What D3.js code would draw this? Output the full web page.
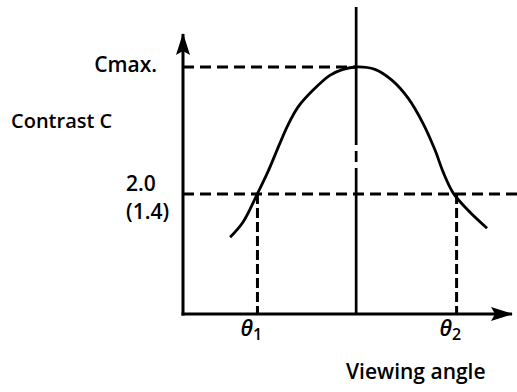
<!DOCTYPE html>
<html>
<head>
<meta charset="utf-8">
<script src="https://cdn.jsdelivr.net/npm/d3@7"></script>
<style>
  html, body { margin: 0; padding: 0; background: #fff; }
  svg { display: block; }
  text { font-family: "Open Sans", sans-serif; font-weight: 600; fill: #000; }
</style>
</head>
<body>
<svg id="chart" width="517" height="392"></svg>
<script>
"use strict";

// curve: viewing angle (deg) vs contrast
const angles   = [-36.4, -32.7, -28.4, -25.5, -22.0, -19.7, -16.8, -12.5, -7.6, -3.8, 0,
                  5.4, 10.3, 15.0, 19.3, 22.8, 25.1, 28.0, 32.3, 37.8];
const contrast = [1.28, 1.53, 2.02, 2.37, 2.85, 3.15, 3.45, 3.73, 3.98, 4.08, 4.12,
                  4.08, 3.90, 3.60, 3.18, 2.73, 2.37, 2.02, 1.73, 1.43];

const cMax = 4.12;
const cLevel = 2.0;
const levelLabels = ["2.0", "(1.4)"];
const thetaAngles = [-28.5, 29.0];
const thetaSubs = ["1", "2"];
const xLabel = "Viewing angle";
const yLabel = "Contrast C";
const cMaxLabel = "Cmax.";

const xDomain = [-50, 45];
const yDomain = [0, 4.67];
const levelLineEnd = 46.5;
const centerTop = 5.12;

const svg = d3.select("#chart");
const x = d3.scaleLinear().domain(xDomain).range([183, 512]);
const y = d3.scaleLinear().domain(yDomain).range([314, 34]);

const defs = svg.append("defs");
defs.append("marker")
    .attr("id", "arrow")
    .attr("viewBox", "0 0 22 14")
    .attr("refX", 21).attr("refY", 7)
    .attr("markerWidth", 22).attr("markerHeight", 14)
    .attr("markerUnits", "userSpaceOnUse")
    .attr("orient", "auto")
  .append("path")
    .attr("d", "M0,0 L22,7 L0,14 L4,7 Z")
    .attr("fill", "#000");

// dashed reference lines
const dash = "11,6";
svg.append("line")
    .attr("x1", x(xDomain[0])).attr("x2", x(0))
    .attr("y1", y(cMax)).attr("y2", y(cMax))
    .attr("stroke", "#000").attr("stroke-width", 3).attr("stroke-dasharray", dash);
svg.append("line")
    .attr("x1", x(xDomain[0])).attr("x2", x(levelLineEnd))
    .attr("y1", y(cLevel)).attr("y2", y(cLevel))
    .attr("stroke", "#000").attr("stroke-width", 3).attr("stroke-dasharray", dash);
svg.selectAll("line.theta")
    .data(thetaAngles)
    .join("line")
    .attr("class", "theta")
    .attr("x1", d => x(d)).attr("x2", d => x(d))
    .attr("y1", y(cLevel)).attr("y2", y(0))
    .attr("stroke", "#000").attr("stroke-width", 3).attr("stroke-dasharray", "10,4");

// centre line (normal direction)
svg.append("line")
    .attr("x1", x(0)).attr("x2", x(0))
    .attr("y1", y(centerTop)).attr("y2", y(0))
    .attr("stroke", "#000").attr("stroke-width", 2.7)
    .attr("stroke-dasharray", "138,6,11,6,200");

// axes
svg.append("line")
    .attr("x1", x(xDomain[0])).attr("x2", x(xDomain[0]))
    .attr("y1", y(0) + 1.5).attr("y2", y(yDomain[1]))
    .attr("stroke", "#000").attr("stroke-width", 3)
    .attr("marker-end", "url(#arrow)");
svg.append("line")
    .attr("x1", x(xDomain[0]) - 1.5).attr("x2", x(xDomain[1]))
    .attr("y1", y(0)).attr("y2", y(0))
    .attr("stroke", "#000").attr("stroke-width", 3)
    .attr("marker-end", "url(#arrow)");

// contrast curve
const line = d3.line()
    .x((d, i) => x(angles[i]))
    .y((d, i) => y(contrast[i]))
    .curve(d3.curveCatmullRom);
svg.append("path")
    .attr("d", line(angles))
    .attr("fill", "none")
    .attr("stroke", "#000")
    .attr("stroke-width", 2.8);

// labels
const fs = 21;
svg.append("text")
    .attr("x", 157).attr("y", y(cMax) + 5)
    .attr("text-anchor", "end")
    .attr("font-size", fs)
    .text(cMaxLabel);
svg.append("text")
    .attr("x", 11).attr("y", 128)
    .attr("font-size", 20)
    .text(yLabel);
svg.selectAll("text.level")
    .data(levelLabels)
    .join("text")
    .attr("class", "level")
    .attr("x", 126)
    .attr("y", (d, i) => y(cLevel) - 3 + i * 28)
    .attr("font-size", fs)
    .text(d => d);

const th = svg.selectAll("text.theta")
    .data(thetaAngles)
    .join("text")
    .attr("class", "theta")
    .attr("x", d => x(d) - 17)
    .attr("y", y(0) + 22)
    .attr("font-size", 22);
th.append("tspan")
    .attr("font-style", "italic")
    .text("θ");
th.append("tspan")
    .attr("font-size", 16)
    .attr("dy", 4)
    .text((d, i) => thetaSubs[i]);

svg.append("text")
    .attr("x", 346).attr("y", 379)
    .attr("font-size", fs)
    .text(xLabel);
</script>
</body>
</html>
